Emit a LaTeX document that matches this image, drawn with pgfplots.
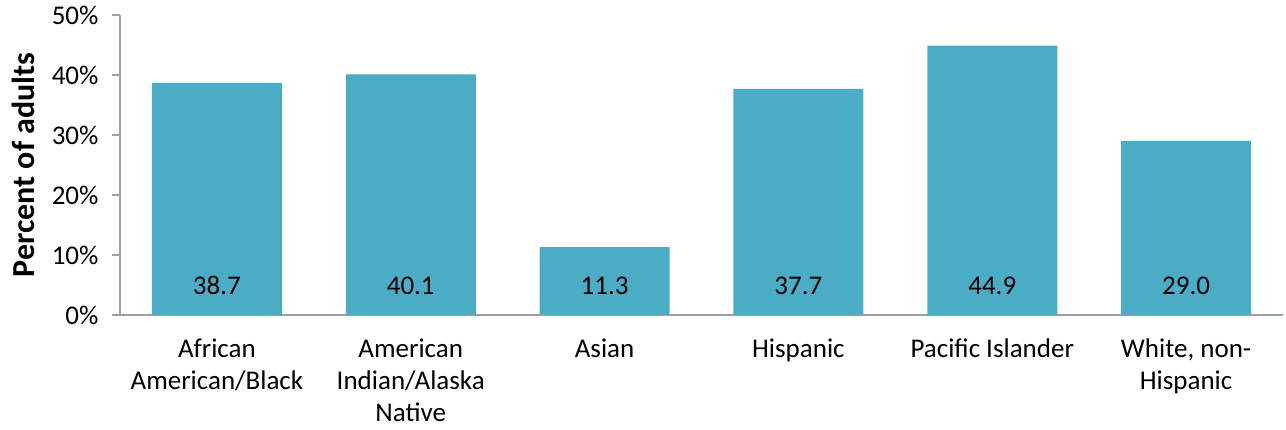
\documentclass[border=0pt]{standalone}
\usepackage{pgfplots}
\pgfplotsset{compat=1.18}
\usepackage{fontspec}
\setmainfont{Carlito}
\definecolor{barc}{HTML}{4BACC6}
\definecolor{axc}{HTML}{A0A0A0}
\begin{document}
\begin{tikzpicture}
\begin{axis}[
  scale only axis,
  width=1163pt, height=300pt,
  xmin=-0.5, xmax=5.5,
  ymin=0, ymax=50,
  axis x line=bottom, axis y line=left,
  axis line style={-, draw=axc, line width=1.5pt},
  every tick/.style={draw=axc, line width=1.5pt},
  tick align=outside,
  major tick length=8pt,
  minor tick length=8pt,
  xtick={0,1,2,3,4,5},
  x tick style={draw=none},
  minor xtick={-0.5,0.5,1.5,2.5,3.5,4.5,5.5},
  xticklabels={{African\\American/Black},{American\\Indian/Alaska\\Native},Asian,Hispanic,Pacific Islander,{White, non-\\Hispanic}},
  xticklabel style={align=center, font=\fontsize{27}{32}\selectfont, text=black, yshift=-12pt},
  ytick={0,10,20,30,40,50},
  yticklabel={\pgfmathprintnumber{\tick}\%},
  yticklabel style={font=\fontsize{27}{32}\selectfont, text=black, xshift=-10pt},
  /pgf/number format/assume math mode=true,
  ylabel={\textbf{Percent of adults}},
  every axis y label/.style={at={([xshift=-97pt]axis description cs:0,0.5)}, rotate=90, anchor=center, font=\fontsize{32}{36}\selectfont, text=black},
  clip=false,
]
\addplot[ybar, bar width=130pt, fill=barc, draw=none] coordinates {
  (0,38.7) (1,40.1) (2,11.3) (3,37.7) (4,44.9) (5,29.0)
};
\addplot[draw=none, mark=none, nodes near coords, point meta=explicit symbolic,
  nodes near coords style={anchor=base, yshift=20pt, font=\fontsize{27}{32}\selectfont, text=black}]
  coordinates {
  (0,0) [38.7] (1,0) [40.1] (2,0) [11.3] (3,0) [37.7] (4,0) [44.9] (5,0) [29.0]
};
\end{axis}
\path ([xshift=-120pt,yshift=-115pt]current axis.south west) rectangle ([xshift=3pt,yshift=15pt]current axis.north east);
\end{tikzpicture}
\end{document}
